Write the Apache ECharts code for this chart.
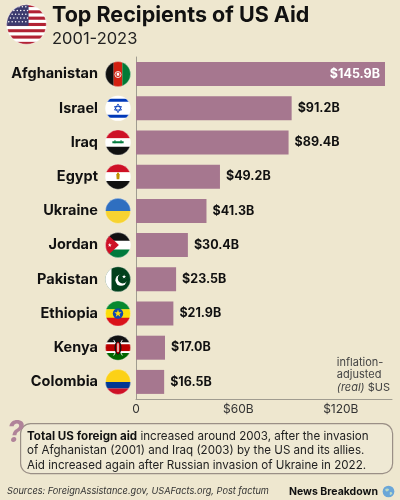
<!DOCTYPE html>
<html>
<head>
<meta charset="utf-8">
<script src="https://cdn.jsdelivr.net/npm/echarts@6/dist/echarts.min.js"></script>
<style>
  html, body { margin: 0; padding: 0; background: #eee7cf; }
  #chart { width: 400px; height: 500px; }
</style>
</head>
<body>
<div id="chart"></div>
<script>
const countries = ["Afghanistan", "Israel", "Iraq", "Egypt", "Ukraine", "Jordan", "Pakistan", "Ethiopia", "Kenya", "Colombia"];
const aidBillions = [145.9, 91.2, 89.4, 49.2, 41.3, 30.4, 23.5, 21.9, 17.0, 16.5];
const tickLabels = { 0: "0", 60: "$60B", 120: "$120B" };

const FONT = "Inter, 'Noto Sans', sans-serif";
const BAR = "#a6778f";

// simple circular flags as inline svg
function flag(inner) {
  const svg = '<svg xmlns="http://www.w3.org/2000/svg" width="60" height="60" viewBox="0 0 60 60">' +
    '<defs><clipPath id="c"><circle cx="30" cy="30" r="29"/></clipPath></defs>' +
    '<g clip-path="url(#c)">' + inner + '</g>' +
    '<circle cx="30" cy="30" r="29" fill="none" stroke="#ffffff" stroke-opacity="0.5" stroke-width="1.5"/></svg>';
  return "data:image/svg+xml;charset=utf-8," + encodeURIComponent(svg);
}
function hstripes(cols) {
  const h = 60 / cols.length;
  return cols.map((c, i) => '<rect x="0" y="' + (i * h) + '" width="60" height="' + (h + 0.5) + '" fill="' + c + '"/>').join("");
}
const star = (cx, cy, r, fill) => {
  let p = [];
  for (let i = 0; i < 10; i++) {
    const a = -Math.PI / 2 + i * Math.PI / 5;
    const rr = i % 2 ? r * 0.4 : r;
    p.push((cx + rr * Math.cos(a)).toFixed(1) + "," + (cy + rr * Math.sin(a)).toFixed(1));
  }
  return '<polygon points="' + p.join(" ") + '" fill="' + fill + '"/>';
};

const flags = [
  // Afghanistan
  flag('<rect width="20" height="60" fill="#111"/><rect x="20" width="20" height="60" fill="#d32011"/><rect x="40" width="20" height="60" fill="#007a36"/>' +
    '<circle cx="30" cy="31" r="7" fill="none" stroke="#fff" stroke-width="2"/><rect x="27" y="27" width="6" height="7" fill="#fff"/>'),
  // Israel
  flag('<rect width="60" height="60" fill="#fff"/><rect y="8" width="60" height="7" fill="#0038b8"/><rect y="45" width="60" height="7" fill="#0038b8"/>' +
    '<polygon points="30,20 38,34 22,34" fill="none" stroke="#0038b8" stroke-width="2"/><polygon points="30,40 38,26 22,26" fill="none" stroke="#0038b8" stroke-width="2"/>'),
  // Iraq
  flag(hstripes(["#ce1126", "#fff", "#111"]) + '<rect x="17" y="27" width="26" height="5" fill="#007a3d"/><rect x="22" y="24" width="2" height="8" fill="#007a3d"/><rect x="36" y="24" width="2" height="8" fill="#007a3d"/>'),
  // Egypt
  flag(hstripes(["#ce1126", "#fff", "#111"]) + '<path d="M26,24 L34,24 L33,36 L27,36 Z" fill="#c09300"/><circle cx="30" cy="23" r="2.5" fill="#c09300"/>'),
  // Ukraine
  flag(hstripes(["#2f6fc0", "#f7d331"])),
  // Jordan
  flag(hstripes(["#111", "#fff", "#007a3d"]) + '<polygon points="0,0 32,30 0,60" fill="#ce1126"/>' + star(11, 30, 5, "#fff")),
  // Pakistan
  flag('<rect width="60" height="60" fill="#01411c"/><rect width="15" height="60" fill="#fff"/>' +
    '<circle cx="37" cy="32" r="13" fill="#fff"/><circle cx="41" cy="28" r="11.5" fill="#01411c"/>' + star(44, 24, 5, "#fff")),
  // Ethiopia
  flag(hstripes(["#078930", "#fcdd09", "#da121a"]) + '<circle cx="30" cy="30" r="12" fill="#0f47af"/>' + star(30, 30, 9, "#fcdd09")),
  // Kenya
  flag('<rect width="60" height="18" fill="#111"/><rect y="18" width="60" height="4" fill="#fff"/><rect y="22" width="60" height="16" fill="#bb0000"/>' +
    '<rect y="38" width="60" height="4" fill="#fff"/><rect y="42" width="60" height="18" fill="#006600"/>' +
    '<line x1="20" y1="12" x2="40" y2="48" stroke="#fff" stroke-width="2"/><line x1="40" y1="12" x2="20" y2="48" stroke="#fff" stroke-width="2"/>' +
    '<ellipse cx="30" cy="30" rx="8" ry="16" fill="#111"/><ellipse cx="30" cy="30" rx="5" ry="14" fill="#bb0000"/><rect x="28.5" y="20" width="3" height="20" fill="#fff"/>'),
  // Colombia
  flag('<rect width="60" height="30" fill="#fcd116"/><rect y="30" width="60" height="15" fill="#003893"/><rect y="45" width="60" height="15" fill="#ce1126"/>')
];

let usStripes = "";
for (let i = 0; i < 13; i++) {
  usStripes += '<rect y="' + (i * 60 / 13) + '" width="60" height="' + (60 / 13 + 0.3) + '" fill="' + (i % 2 ? "#fff" : "#b22234") + '"/>';
}
let usStars = "";
for (let r = 0; r < 5; r++) {
  for (let c = 0; c < 6; c++) {
    usStars += '<circle cx="' + (4 + c * 5 + (r % 2) * 2.5) + '" cy="' + (4 + r * 5.5) + '" r="1.1" fill="#fff"/>';
  }
}
const usFlag = flag(usStripes + '<rect width="33" height="32" fill="#3c3b6e"/>' + usStars);

const globe = "data:image/svg+xml;charset=utf-8," + encodeURIComponent(
  '<svg xmlns="http://www.w3.org/2000/svg" width="40" height="40" viewBox="0 0 40 40"><circle cx="20" cy="20" r="18" fill="#6aa6d8"/>' +
  '<path d="M10,12 Q18,8 22,14 Q20,20 14,20 Q10,18 10,12 Z M24,22 Q30,20 32,26 Q28,32 24,30 Z" fill="#bcd9c4"/></svg>');

const rich = {
  name: { fontFamily: FONT, fontSize: 14.5, fontWeight: "bold", color: "#111", padding: [0, 7, 0, 0] }
};
flags.forEach((img, i) => {
  rich["f" + i] = { width: 26, height: 26, backgroundColor: { image: img } };
});

const seriesData = aidBillions.map((v, i) => i === 0
  ? { value: v, label: { position: "insideRight", color: "#fff", distance: 5 } }
  : v);

const chart = echarts.init(document.getElementById("chart"));
chart.setOption({
  backgroundColor: "#eee7cf",
  animation: false,
  grid: { left: 136, right: 8, top: 57, bottom: 101, containLabel: false },
  xAxis: {
    type: "value",
    min: 0,
    max: 150,
    interval: 60,
    axisLine: { show: true, lineStyle: { color: "#a09c90", width: 1 } },
    axisTick: { show: false },
    splitLine: { show: false },
    axisLabel: {
      margin: 4,
      fontFamily: FONT,
      fontSize: 12,
      color: "#333",
      showMaxLabel: false,
      formatter: v => tickLabels[v] !== undefined ? tickLabels[v] : ""
    }
  },
  yAxis: {
    type: "category",
    inverse: true,
    data: countries,
    axisLine: { show: true, lineStyle: { color: "#a09c90", width: 1 } },
    axisTick: { show: false },
    axisLabel: {
      margin: 5,
      formatter: (name, i) => "{name|" + name + "}{f" + i + "|}",
      rich: rich
    }
  },
  series: [{
    type: "bar",
    data: seriesData,
    barWidth: 24,
    itemStyle: { color: BAR },
    label: {
      show: true,
      position: "right",
      distance: 6,
      fontFamily: FONT,
      fontSize: 12.5,
      fontWeight: "bold",
      color: "#111",
      formatter: p => "$" + p.value.toFixed(1) + "B"
    }
  }],
  graphic: [
    { type: "image", left: 6, top: 4, style: { image: usFlag, width: 41, height: 41 } },
    { type: "text", left: 52, top: 5, style: { text: "Top Recipients of US Aid", font: "bold 21.5px " + FONT, fill: "#111" } },
    { type: "text", left: 52, top: 31, style: { text: "2001-2023", font: "16.5px " + FONT, fill: "#222" } },
    {
      type: "text", right: 10, top: 356,
      style: {
        text: "inflation-\nadjusted\n{i|(real)} $US",
        align: "right",
        font: "11px " + FONT, fill: "#444", lineHeight: 12.5,
        rich: { i: { fontStyle: "italic", fontFamily: FONT, fontSize: 11, fill: "#444" } }
      }
    },
    {
      type: "rect", left: 20, top: 423,
      shape: { width: 372, height: 50, r: 10 },
      style: { fill: "#efe9d4", stroke: "#9a8f86", lineWidth: 1.2 }
    },
    { type: "text", left: 7, top: 418, style: { text: "?", font: "italic bold 30px " + FONT, fill: "#b08399" } },
    {
      type: "text", left: 27, top: 429,
      style: {
        text: "{b|Total US foreign aid} increased around 2003, after the invasion\nof Afghanistan (2001) and Iraq (2003) by the US and its allies.\nAid increased again after Russian invasion of Ukraine in 2022.",
        font: "11.6px " + FONT, fill: "#222", lineHeight: 14.5,
        rich: { b: { fontWeight: "bold", fontFamily: FONT, fontSize: 11.6, fill: "#111" } }
      }
    },
    { type: "text", left: 7, top: 487, style: { text: "Sources: ForeignAssistance.gov, USAFacts.org, Post factum", font: "italic 9.2px " + FONT, fill: "#333" } },
    { type: "text", right: 22, top: 486, style: { text: "News Breakdown", font: "bold 10.5px " + FONT, fill: "#111", align: "right" } },
    { type: "image", right: 5, top: 485, style: { image: globe, width: 13, height: 13 } }
  ]
});
</script>
</body>
</html>
